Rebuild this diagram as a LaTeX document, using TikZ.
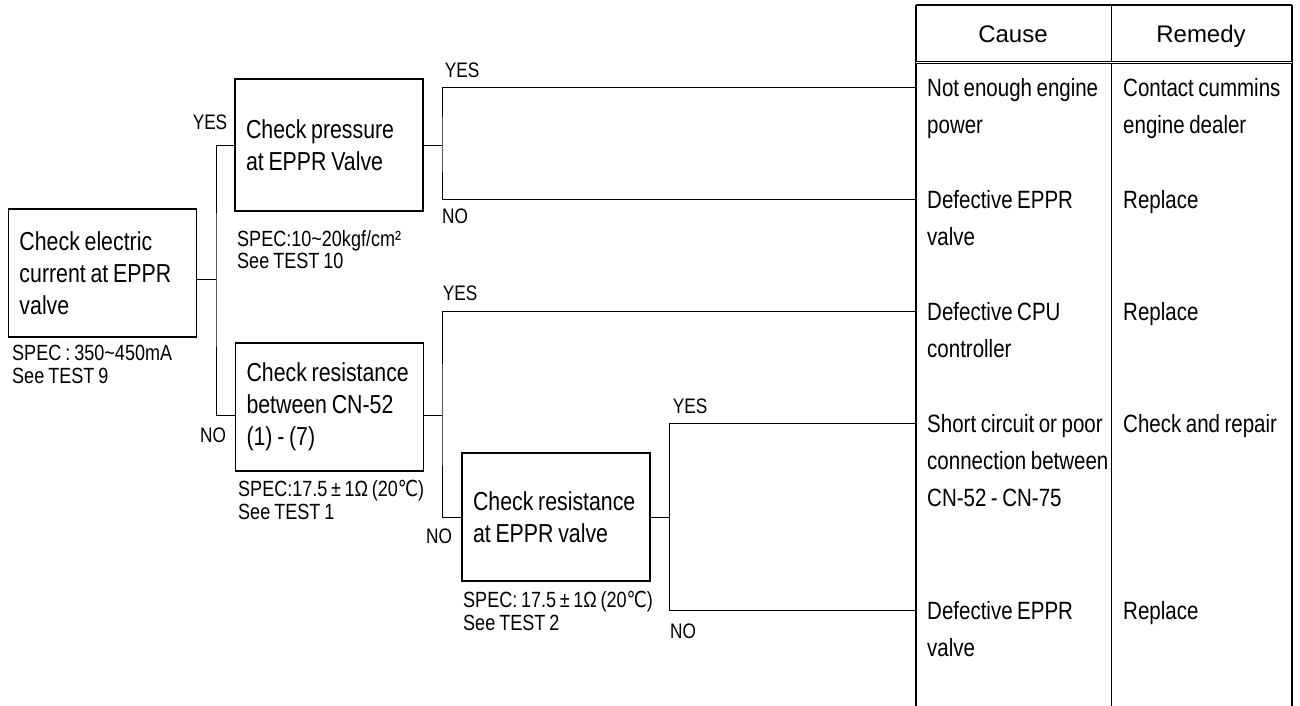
\documentclass[tikz,border=0pt]{standalone}
\usepackage{fontspec}
\setmainfont{Liberation Sans}[FakeStretch=0.82, WordSpace=0.8]
\newfontfamily\headfont{Liberation Sans}
\newfontfamily\symfont{DejaVu Sans}[FakeStretch=0.82]
\usepackage{tikz}
\usetikzlibrary{positioning,calc}

\begin{document}
\begin{tikzpicture}[
  x=1pt, y=-1pt,
  box/.style={draw, line width=1.5pt, align=flush left, text width=166pt,
              inner xsep=11pt, inner ysep=0pt, minimum height=128pt,
              font=\fontsize{26}{32}\selectfont},
  spec/.style={anchor=north west, inner sep=0pt, align=left,
               font=\fontsize{22}{22.5}\selectfont},
  lab/.style={inner sep=0pt, font=\fontsize{21}{23}\selectfont},
  cell/.style={anchor=north west, inner sep=0pt, align=left,
               font=\fontsize{25}{37}\selectfont},
  head/.style={anchor=base, inner sep=0pt, font=\headfont\fontsize{24}{28}\selectfont},
  wire/.style={line width=0.9pt},
  rule/.style={line width=1.8pt}]
\useasboundingbox (0,0) rectangle (1300,706);

% Checks on the left.
\node[box] (b1) at (102.5,273) {Check electric\\current at EPPR\\valve};
\node[box, minimum height=132pt] (b2) at (329,145) {Check pressure\\at EPPR Valve};
\node[box] (b3) at (329.5,407) {Check resistance\\between CN-52\\(1) - (7)};
\node[box] (b4) at (556,517) {Check resistance\\at EPPR valve};

\node[spec] (sp1) at (12,345) {SPEC : 350\char`\~450mA\\See TEST 9};
\node[spec] (sp2) at (237,230) {SPEC:10\char`\~20kgf/cm²\\See TEST 10};
\node[spec] (sp3) at (238,480) {SPEC:17.5\,±\,1Ω\,(20{\symfont ℃})\\See TEST 1};
\node[spec] (sp4) at (463,591) {SPEC:\,17.5\,±\,1Ω\,(20{\symfont ℃})\\See TEST 2};

% Cause / remedy table.
\draw[line width=1.2pt] (916,5) -- (1292,5);
\draw[rule] (916,5) -- (916,706);
\draw[rule] (1292,5) -- (1292,706);
\draw[wire] (1111,5) -- (1111,706);
\draw[line width=0.6pt, double, double distance=1.6pt] (916,62.5) -- (1292,62.5);
\node[head] (hc) at (1013,43) {Cause};
\node[head] (hr) at (1201,43) {Remedy};

\coordinate (t1) at (916,87);
\coordinate (t2) at (916,199);
\coordinate (t3) at (916,311);
\coordinate (t4) at (916,423);
\coordinate (t5) at (916,610);

\node[cell] (c1) at (927,78) {Not enough engine\\power};
\node[cell] (r1) at (1123,78) {Contact cummins\\engine dealer};
\node[cell] (c2) at (927,190) {Defective EPPR\\valve};
\node[cell] (r2) at (1123,190) {Replace};
\node[cell] (c3) at (927,302) {Defective CPU\\controller};
\node[cell] (r3) at (1123,302) {Replace};
\node[cell] (c4) at (927,414) {Short circuit or poor\\connection between\\CN-52 - CN-75};
\node[cell] (r4) at (1123,414) {Check and repair};
\node[cell] (c5) at (927,601) {Defective EPPR\\valve};
\node[cell] (r5) at (1123,601) {Replace};

% Branches.
\coordinate (s1) at (216,279);
\coordinate (s2) at (442,145);
\coordinate (s3) at (442,415);
\coordinate (s4) at (669,517);
\draw[wire] (b1.east |- s1) -- (s1);
\draw[wire] (b2.west |- 0,145) -| (s1) |- (b3.west |- 0,415);
\draw[wire] (b2.east |- s2) -- (s2);
\draw[wire] (t1) -| (s2) |- (t2);
\draw[wire] (b3.east |- s3) -- (s3);
\draw[wire] (t3) -| (s3) |- (b4.west |- s4);
\draw[wire] (b4.east |- s4) -- (s4);
\draw[wire] (t4) -| (s4) |- (t5);

\node[lab] (y1) at (210,122) {YES};
\node[lab] (n1) at (213,435) {NO};
\node[lab] (y2) at (462,70) {YES};
\node[lab] (n2) at (455,216) {NO};
\node[lab] (y3) at (460,293) {YES};
\node[lab] (n3) at (439,536) {NO};
\node[lab] (y4) at (690,406) {YES};
\node[lab] (n4) at (683,631) {NO};
\end{tikzpicture}
\end{document}
